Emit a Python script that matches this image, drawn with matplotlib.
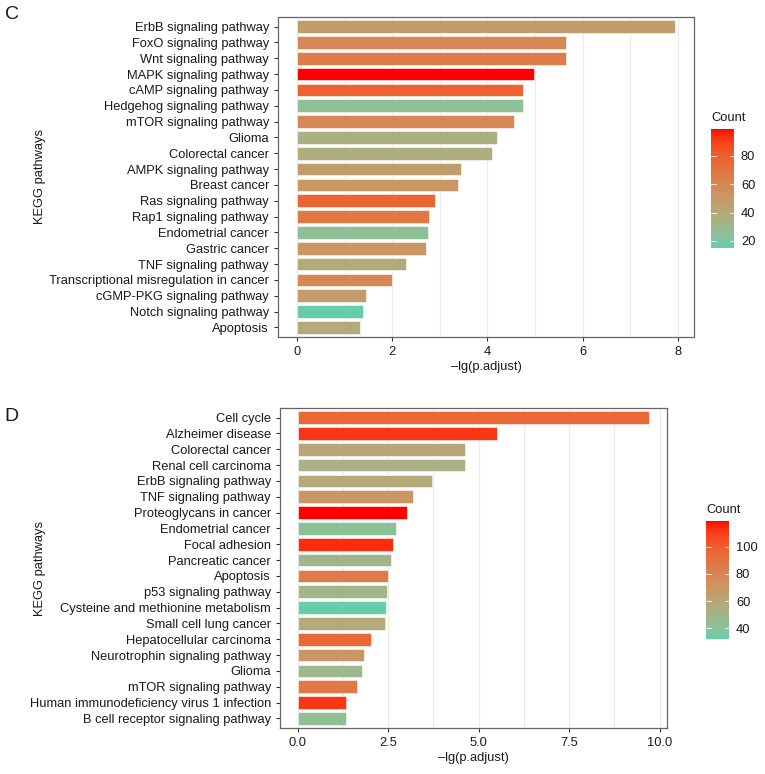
import matplotlib
matplotlib.use("Agg")
import matplotlib.pyplot as plt
import numpy as np
from matplotlib.colors import ListedColormap, Normalize, to_rgb
from matplotlib.cm import ScalarMappable
from matplotlib.ticker import MultipleLocator

plt.rcParams["font.family"] = ["Liberation Sans", "DejaVu Sans"]

# ── Data ─────────────────────────────────────────────────────────────────────
c_terms = [
    "ErbB signaling pathway", "FoxO signaling pathway", "Wnt signaling pathway",
    "MAPK signaling pathway", "cAMP signaling pathway", "Hedgehog signaling pathway",
    "mTOR signaling pathway", "Glioma", "Colorectal cancer", "AMPK signaling pathway",
    "Breast cancer", "Ras signaling pathway", "Rap1 signaling pathway",
    "Endometrial cancer", "Gastric cancer", "TNF signaling pathway",
    "Transcriptional misregulation in cancer", "cGMP-PKG signaling pathway",
    "Notch signaling pathway", "Apoptosis",
]
c_values = [7.94, 5.66, 5.66, 4.97, 4.75, 4.74, 4.55, 4.21, 4.10, 3.44,
            3.38, 2.89, 2.78, 2.75, 2.72, 2.28, 2.00, 1.45, 1.39, 1.33]
c_counts = [48, 60, 65, 99, 78, 25, 60, 35, 37, 48,
            52, 77, 68, 25, 52, 40, 60, 48, 15, 40]

d_terms = [
    "Cell cycle", "Alzheimer disease", "Colorectal cancer", "Renal cell carcinoma",
    "ErbB signaling pathway", "TNF signaling pathway", "Proteoglycans in cancer",
    "Endometrial cancer", "Focal adhesion", "Pancreatic cancer", "Apoptosis",
    "p53 signaling pathway", "Cysteine and methionine metabolism",
    "Small cell lung cancer", "Hepatocellular carcinoma",
    "Neurotrophin signaling pathway", "Glioma", "mTOR signaling pathway",
    "Human immunodeficiency virus 1 infection", "B cell receptor signaling pathway",
]
d_values = [9.72, 5.50, 4.63, 4.63, 3.72, 3.18, 3.03, 2.72, 2.63, 2.59,
            2.49, 2.48, 2.43, 2.41, 2.03, 1.83, 1.79, 1.64, 1.34, 1.34]
d_counts = [95, 112, 60, 52, 58, 70, 119, 42, 114, 50,
            85, 50, 32, 58, 95, 70, 48, 87, 112, 44]

LOW, HIGH = "#66CDAA", "#FF0000"


# ── Lab gradient (like ggplot scale_fill_gradient) ───────────────────────────
def _srgb_to_lab(rgb):
    c = np.asarray(rgb, dtype=float)
    lin = np.where(c <= 0.04045, c / 12.92, ((c + 0.055) / 1.055) ** 2.4)
    m = np.array([[0.4124, 0.3576, 0.1805],
                  [0.2126, 0.7152, 0.0722],
                  [0.0193, 0.1192, 0.9505]])
    xyz = m @ lin / np.array([0.95047, 1.0, 1.08883])
    f = np.where(xyz > 0.008856, np.cbrt(xyz), 7.787 * xyz + 16 / 116)
    return np.array([116 * f[1] - 16, 500 * (f[0] - f[1]), 200 * (f[1] - f[2])])


def _lab_to_srgb(lab):
    L, a, b = lab
    fy = (L + 16) / 116
    fx, fz = fy + a / 500, fy - b / 200
    f = np.array([fx, fy, fz])
    xyz = np.where(f ** 3 > 0.008856, f ** 3, (f - 16 / 116) / 7.787)
    xyz = xyz * np.array([0.95047, 1.0, 1.08883])
    m_inv = np.array([[3.2406, -1.5372, -0.4986],
                      [-0.9689, 1.8758, 0.0415],
                      [0.0557, -0.2040, 1.0570]])
    lin = np.clip(m_inv @ xyz, 0, 1)
    c = np.where(lin <= 0.0031308, 12.92 * lin, 1.055 * lin ** (1 / 2.4) - 0.055)
    return np.clip(c, 0, 1)


def lab_cmap(low, high, n=256):
    l0, l1 = _srgb_to_lab(to_rgb(low)), _srgb_to_lab(to_rgb(high))
    cols = [_lab_to_srgb(l0 + (l1 - l0) * t) for t in np.linspace(0, 1, n)]
    return ListedColormap(cols)


CMAP = lab_cmap(LOW, HIGH)
W, H = 765, 774


def draw_panel(fig, rect, cb_rect, terms, values, counts, xmax, xmajor, cb_ticks,
               letter, letter_y, ylab_x):
    ax = fig.add_axes(rect)
    norm = Normalize(min(counts), max(counts))
    y = np.arange(len(terms))
    ax.barh(y, values, height=0.8, color=CMAP(norm(counts)),
            edgecolor="white", linewidth=0.4, zorder=3)
    ax.set_yticks(y)
    ax.set_yticklabels(terms)
    ax.set_ylim(len(terms) - 0.4, -0.6)
    ax.set_xlim(-0.05 * xmax, xmax * 1.05)
    ax.xaxis.set_major_locator(MultipleLocator(xmajor))
    ax.xaxis.set_minor_locator(MultipleLocator(xmajor / 2))
    if xmajor == 2.5:
        ax.xaxis.set_major_formatter(matplotlib.ticker.FormatStrFormatter("%.1f"))
    ax.grid(axis="x", which="both", color="#ebebeb", linewidth=0.8, zorder=0)
    ax.tick_params(axis="x", which="minor", length=0)
    ax.tick_params(axis="both", which="major", labelsize=9.3, colors="#333333",
                   labelcolor="#1a1a1a", length=3, width=0.8)
    for s in ax.spines.values():
        s.set_color("#666666")
        s.set_linewidth(0.9)
    ax.set_xlabel("–lg(p.adjust)", fontsize=9.3, color="#1a1a1a", labelpad=2)
    ax.set_ylabel("KEGG pathways", fontsize=9.3, color="#1a1a1a")
    left_px = rect[0] * W
    width_px = rect[2] * W
    ax.yaxis.set_label_coords((ylab_x - left_px) / width_px, 0.5)

    cax = fig.add_axes(cb_rect)
    cb = fig.colorbar(ScalarMappable(norm=norm, cmap=CMAP), cax=cax, ticks=cb_ticks)
    cb.outline.set_visible(False)
    cax.tick_params(direction="in", color="white", length=3, width=0.6,
                    labelsize=9.3, labelcolor="#1a1a1a", pad=5)
    for t in cb_ticks:
        cax.axhline(t, xmin=0, xmax=0.2, color="white", linewidth=0.6)
    cax.set_title("Count", fontsize=9.3, loc="left", pad=6, color="#1a1a1a")

    fig.text(0.006, 1 - letter_y / H, letter, fontsize=14, va="top", ha="left",
             color="#1a1a1a")
    return ax


fig = plt.figure(figsize=(W / 100, H / 100), dpi=100)


def frac(l, t, r, b):
    return [l / W, 1 - b / H, (r - l) / W, (b - t) / H]


draw_panel(fig, frac(278, 17, 694, 337), frac(711, 129, 734, 248),
           c_terms, c_values, c_counts, max(c_values), 2, [20, 40, 60, 80],
           "C", 6, 46)
draw_panel(fig, frac(280, 408, 667, 728), frac(706, 521, 729, 639),
           d_terms, d_values, d_counts, max(d_values), 2.5, [40, 60, 80, 100],
           "D", 408, 46)

fig.savefig("out.png", dpi=100)
